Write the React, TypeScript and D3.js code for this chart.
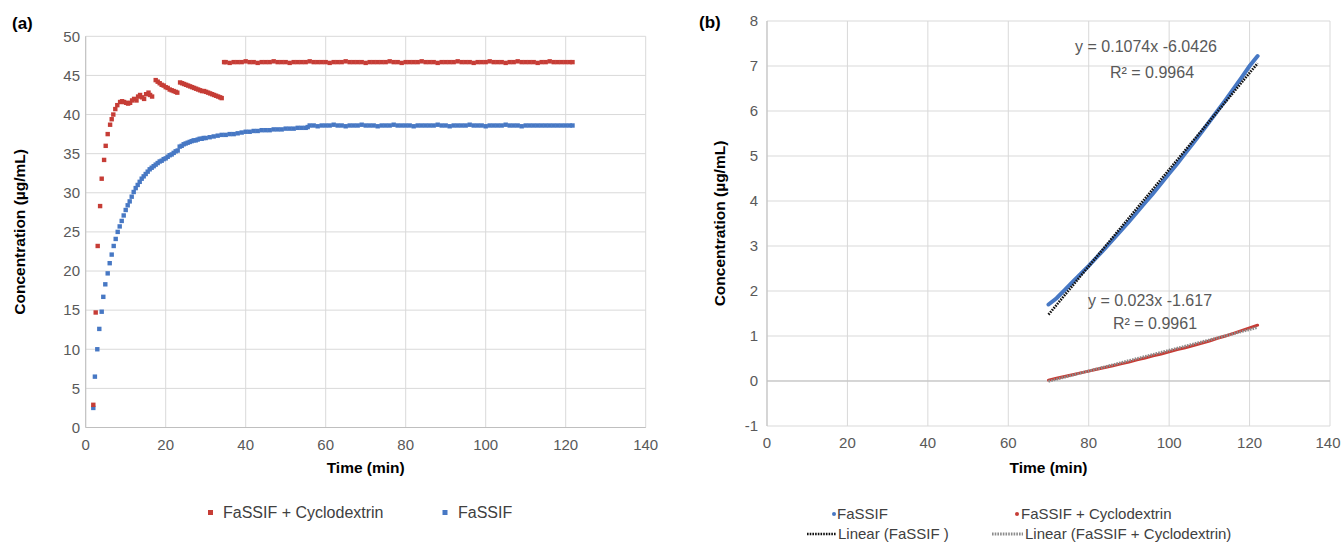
import React from "react";
import * as d3 from "d3";

const FONT = "'Liberation Sans', Arial, sans-serif";
const RED = "#c63d36";
const BLUE = "#4778c4";

// (a) FaSSIF + Cyclodextrin, 0-122 min
const cdTimes = [
  1.9, 2.5, 3.0, 3.6, 4.0, 4.6, 5.0, 5.5, 6.1, 6.5, 6.9, 7.4, 7.9, 8.6, 9.1, 9.6, 10.1, 10.6, 11.1, 11.6,
  12.1, 12.7, 13.1, 13.6, 14.1, 14.6, 15.1, 15.7, 16.1, 16.6,
  17.5, 18, 18.5, 19, 19.5, 20, 20.5, 21, 21.5, 22, 22.5, 22.9,
  23.6, 24.1, 24.6, 25.1, 25.6, 26.1, 26.6, 27.1, 27.6, 28.1, 28.6, 29.1, 29.6, 30.1, 30.6, 31.1, 31.6,
  32.1, 32.6, 33.1, 33.6, 34.0,
  34.6, 35, 36, 37, 38, 39, 40, 41, 42, 43, 44, 45, 46, 47, 48, 49, 50, 51, 52, 53, 54, 55, 56, 57, 58,
  59, 60, 61, 62, 63, 64, 65, 66, 67, 68, 69, 70, 71, 72, 73, 74, 75, 76, 77, 78, 79, 80, 81, 82, 83, 84,
  85, 86, 87, 88, 89, 90, 91, 92, 93, 94, 95, 96, 97, 98, 99, 100, 101, 102, 103, 104, 105, 106, 107, 108,
  109, 110, 111, 112, 113, 114, 115, 116, 117, 118, 119, 120, 121, 121.7,
];
const cdConc = [
  2.9, 14.7, 23.2, 28.3, 31.8, 34.2, 36.0, 37.5, 38.7, 39.4, 40.0, 40.7, 41.2, 41.6, 41.7, 41.6, 41.5, 41.4, 41.5, 41.8,
  42.0, 41.8, 42.3, 42.5, 42.2, 42.0, 42.6, 42.8, 42.5, 42.3,
  44.4, 44.2, 44.0, 43.8, 43.7, 43.5, 43.4, 43.2, 43.1, 43.0, 42.9, 42.8,
  44.1, 44.0, 43.9, 43.8, 43.7, 43.6, 43.5, 43.4, 43.3, 43.2, 43.1, 43.0, 43.0, 42.9, 42.8, 42.7, 42.6,
  42.5, 42.4, 42.3, 42.2, 42.1,
  46.7, 46.7, 46.6, 46.7, 46.7, 46.7, 46.8, 46.7, 46.7, 46.6,
  46.7, 46.7, 46.7, 46.8, 46.7, 46.7, 46.7, 46.6, 46.7, 46.7,
  46.7, 46.7, 46.8, 46.7, 46.7, 46.7, 46.7, 46.6, 46.7, 46.7,
  46.7, 46.8, 46.7, 46.7, 46.7, 46.7, 46.6, 46.7, 46.7, 46.7,
  46.7, 46.7, 46.8, 46.7, 46.7, 46.6, 46.7, 46.7, 46.7, 46.7,
  46.8, 46.7, 46.7, 46.7, 46.6, 46.7, 46.7, 46.7, 46.7, 46.8,
  46.7, 46.7, 46.7, 46.6, 46.7, 46.7, 46.7, 46.8, 46.7, 46.7,
  46.7, 46.6, 46.7, 46.7, 46.8, 46.7, 46.7, 46.7, 46.7, 46.6,
  46.7, 46.7, 46.8, 46.7, 46.7, 46.7, 46.7, 46.7, 46.7,
];

// (a) FaSSIF
const fasTimes = [
  1.9, 2.3, 2.9, 3.4, 4.0, 4.4, 4.9, 5.5, 6.0, 6.5, 7.0, 7.5, 8.0, 8.5, 9.0, 9.5, 10.0, 10.5, 11.0,
  11.5, 12, 12.5, 13, 13.5, 14, 14.5, 15, 15.5, 16,
  16.5, 17, 17.5, 18, 18.5, 19, 19.5, 20, 20.5, 21,
  21.5, 22, 22.5, 23, 23.5, 24, 24.5, 25, 25.5, 26,
  26.5, 27, 27.5, 28, 28.5, 29, 29.5, 30,
  31, 32, 33, 34, 35, 36, 37, 38, 39, 40, 41, 42, 43, 44, 45, 46, 47, 48, 49, 50, 51, 52, 53, 54, 55, 55.5,
  56, 57, 58, 59, 60, 61, 62, 63, 64, 65, 66, 67, 68, 69, 70, 71, 72, 73, 74, 75, 76, 77, 78, 79, 80, 81,
  82, 83, 84, 85, 86, 87, 88, 89, 90, 91, 92, 93, 94, 95, 96, 97, 98, 99, 100, 101, 102, 103, 104, 105, 106,
  107, 108, 109, 110, 111, 112, 113, 114, 115, 116, 117, 118, 119, 120, 121, 121.7,
];
const fasConc = [
  2.5, 6.5, 10.0, 12.6, 14.8, 16.7, 18.3, 19.7, 21.0, 22.1, 23.2, 24.1, 25.0, 25.7, 26.4, 27.1, 27.8, 28.4, 28.9,
  29.5, 30.1, 30.6, 31.0, 31.4, 31.8, 32.1, 32.4, 32.7, 33.0,
  33.2, 33.4, 33.6, 33.8, 34.0, 34.1, 34.3, 34.4, 34.6, 34.8,
  34.9, 35.1, 35.3, 35.4, 35.9, 36.0, 36.2, 36.3, 36.4, 36.5,
  36.6, 36.7, 36.7, 36.8, 36.9, 36.9, 37.0, 37.0,
  37.1, 37.2, 37.3, 37.4, 37.4, 37.5, 37.5, 37.6, 37.7, 37.8,
  37.8, 37.9, 37.9, 38.0, 38.0, 38.0, 38.1, 38.1, 38.1, 38.2,
  38.2, 38.2, 38.3, 38.3, 38.3, 38.4,
  38.6, 38.6, 38.5, 38.6, 38.6, 38.6, 38.7, 38.6, 38.6, 38.5,
  38.6, 38.6, 38.6, 38.7, 38.6, 38.6, 38.6, 38.5, 38.6, 38.6,
  38.6, 38.7, 38.6, 38.6, 38.6, 38.6, 38.5, 38.6, 38.6, 38.6,
  38.6, 38.6, 38.7, 38.6, 38.6, 38.5, 38.6, 38.6, 38.6, 38.6,
  38.7, 38.6, 38.6, 38.6, 38.5, 38.6, 38.6, 38.6, 38.6, 38.7,
  38.6, 38.6, 38.6, 38.5, 38.6, 38.6, 38.6, 38.6, 38.6, 38.6,
  38.6, 38.6, 38.6, 38.6, 38.6, 38.6, 38.6,
];

// (b) 70-122 min window with linear fits
const bTimes = [70, 72, 74, 76, 78, 80, 82, 84, 86, 88, 90, 92, 94, 96, 98, 100, 102, 104, 106, 108, 110, 112, 114, 116, 118, 120, 122];
const bFassif = [1.70, 1.84, 2.02, 2.20, 2.38, 2.56, 2.75, 2.94, 3.14, 3.34, 3.54, 3.75, 3.96, 4.17, 4.39, 4.61, 4.83, 5.06, 5.29, 5.52, 5.76, 6.00, 6.24, 6.49, 6.74, 7.00, 7.22];
const bCyclo = [0.02, 0.06, 0.10, 0.14, 0.18, 0.22, 0.26, 0.30, 0.34, 0.38, 0.42, 0.47, 0.51, 0.56, 0.60, 0.65, 0.70, 0.74, 0.79, 0.84, 0.89, 0.95, 1.00, 1.06, 1.12, 1.18, 1.24];
const fitFassif = { slope: 0.1074, intercept: -6.0426, r2: "0.9964", label: "y = 0.1074x -6.0426" };
const fitCyclo = { slope: 0.023, intercept: -1.617, r2: "0.9961", label: "y = 0.023x -1.617" };

const xTicks = [0, 20, 40, 60, 80, 100, 120, 140];
const yTicksA = [0, 5, 10, 15, 20, 25, 30, 35, 40, 45, 50];
const yTicksB = [-1, 0, 1, 2, 3, 4, 5, 6, 7, 8];

const Frame = ({ x, y, yTicks, axisAt, labelRight, yTitleX }) => {
  const [x0, x1] = x.range();
  const [yb, yt] = y.range();
  return (
    <g fontFamily={FONT}>
      {yTicks.map((t) => (
        <line key={"gy" + t} x1={x0} x2={x1} y1={y(t)} y2={y(t)} stroke="#d9d9d9" />
      ))}
      {xTicks.map((t) => (
        <line key={"gx" + t} x1={x(t)} x2={x(t)} y1={yb} y2={yt} stroke="#d9d9d9" />
      ))}
      <line x1={x0} x2={x0} y1={yb} y2={yt} stroke="#bfbfbf" />
      <line x1={x0} x2={x1} y1={y(axisAt)} y2={y(axisAt)} stroke="#bfbfbf" />
      {yTicks.map((t) => (
        <text key={"ly" + t} x={labelRight} y={y(t)} dy="0.35em" textAnchor="end" fontSize={15} fill="#595959">
          {t}
        </text>
      ))}
      {xTicks.map((t) => {
        // keep the last label inside the page edge
        const cx = Math.min(x(t), 1328);
        return (
          <text key={"lx" + t} x={cx} y={yb + 17} dy="0.35em" textAnchor="middle" fontSize={15} fill="#595959">
            {t}
          </text>
        );
      })}
      <text x={(x0 + x1) / 2} y={468} dy="0.35em" textAnchor="middle" fontSize={15.5} fontWeight="bold">
        Time (min)
      </text>
      <text
        transform={`translate(${yTitleX},${(yb + yt) / 2}) rotate(-90)`}
        dy="0.35em"
        textAnchor="middle"
        fontSize={15.5}
        fontWeight="bold"
      >
        Concentration (µg/mL)
      </text>
    </g>
  );
};

export default function App() {
  const xA = d3.scaleLinear().domain([0, 140]).range([85.7, 645.7]);
  const yA = d3.scaleLinear().domain([0, 50]).range([427.5, 36.3]);
  const xB = d3.scaleLinear().domain([0, 140]).range([767, 1330]);
  const yB = d3.scaleLinear().domain([-1, 8]).range([426, 21]);

  const cdPts = d3.zip(cdTimes, cdConc);
  const fasPts = d3.zip(fasTimes, fasConc);
  const line = d3.line().x((d) => xB(d[0])).y((d) => yB(d[1]));
  const fitLine = (f) =>
    line([
      [bTimes[0], f.slope * bTimes[0] + f.intercept],
      [bTimes[bTimes.length - 1], f.slope * bTimes[bTimes.length - 1] + f.intercept],
    ]);
  const m = 4.4; // marker size, px

  return (
    <svg width={1341} height={543} style={{ position: "absolute", left: 0, top: 0, background: "#fff" }}>
      {/* panel (a) */}
      <text x={12} y={29} fontFamily={FONT} fontSize={17} fontWeight="bold">(a)</text>
      <Frame x={xA} y={yA} yTicks={yTicksA} axisAt={0} labelRight={80} yTitleX={20} />
      {fasPts.map((d, i) => (
        <rect key={"f" + i} x={xA(d[0]) - m / 2} y={yA(d[1]) - m / 2} width={m} height={m} fill={BLUE} />
      ))}
      {cdPts.map((d, i) => (
        <rect key={"c" + i} x={xA(d[0]) - m / 2} y={yA(d[1]) - m / 2} width={m} height={m} fill={RED} />
      ))}
      <g fontFamily={FONT} fontSize={16} fill="#404040">
        <rect x={208} y={510} width={5} height={5} fill={RED} />
        <text x={223} y={512.5} dy="0.35em">FaSSIF + Cyclodextrin</text>
        <rect x={442.5} y={510} width={5} height={5} fill={BLUE} />
        <text x={458} y={512.5} dy="0.35em">FaSSIF</text>
      </g>

      {/* panel (b) */}
      <text x={699} y={28} fontFamily={FONT} fontSize={17} fontWeight="bold">(b)</text>
      <Frame x={xB} y={yB} yTicks={yTicksB} axisAt={0} labelRight={758} yTitleX={720} />
      <path d={line(d3.zip(bTimes, bFassif))} fill="none" stroke={BLUE} strokeWidth={4} strokeLinecap="round" />
      <path d={line(d3.zip(bTimes, bCyclo))} fill="none" stroke={RED} strokeWidth={3} strokeLinecap="round" />
      <path d={fitLine(fitFassif)} fill="none" stroke="#111" strokeWidth={2.6} strokeDasharray="1.6 1.1" />
      <path d={fitLine(fitCyclo)} fill="none" stroke="#8c8c8c" strokeWidth={2.8} strokeDasharray="1.6 1.1" />
      <g fontFamily={FONT} fontSize={16} fill="#595959" textAnchor="middle">
        <text x={1146} y={46} dy="0.35em">{fitFassif.label}</text>
        <text x={1152} y={72.5} dy="0.35em">R² = {fitFassif.r2}</text>
        <text x={1150} y={300} dy="0.35em">{fitCyclo.label}</text>
        <text x={1155} y={323} dy="0.35em">R² = {fitCyclo.r2}</text>
      </g>
      <g fontFamily={FONT} fontSize={15} fill="#404040">
        <circle cx={834} cy={514} r={2} fill={BLUE} />
        <text x={837} y={514} dy="0.35em">FaSSIF</text>
        <circle cx={1017} cy={514} r={2} fill={RED} />
        <text x={1021} y={514} dy="0.35em">FaSSIF + Cyclodextrin</text>
        <line x1={807} x2={836} y1={534} y2={534} stroke="#111" strokeWidth={2.6} strokeDasharray="1.6 1.1" />
        <text x={838} y={534} dy="0.35em">Linear (FaSSIF )</text>
        <line x1={992} x2={1023} y1={534} y2={534} stroke="#8c8c8c" strokeWidth={2.8} strokeDasharray="1.6 1.1" />
        <text x={1025} y={534} dy="0.35em">Linear (FaSSIF + Cyclodextrin)</text>
      </g>
    </svg>
  );
}
